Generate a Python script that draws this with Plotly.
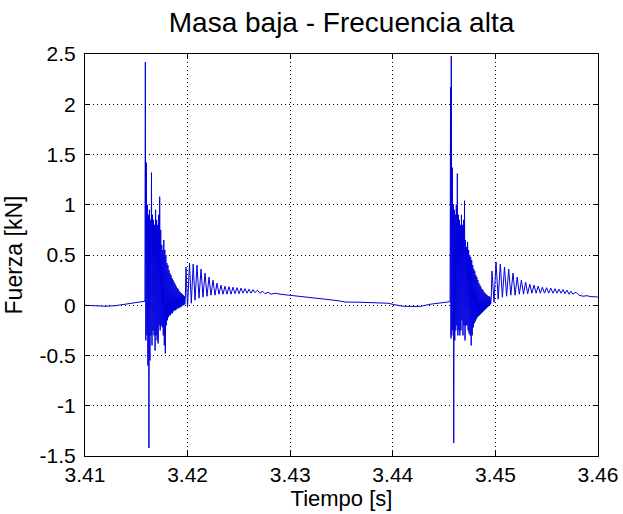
import plotly.graph_objects as go

# Force signal (kN) vs time (s), stitched from consecutive segments

# quiet baseline before the first impact
t_pre = [3.41000, 3.41097, 3.41195, 3.41292, 3.41390, 3.41487, 3.41575, 3.41584]
f_pre = [0.00, -0.005, -0.01, -0.005, 0.01, 0.025, 0.035, 0.04]

# first impact: main spike and dense high-frequency burst
t_hit1 = [3.41588, 3.41593, 3.41598, 3.41603, 3.41608, 3.41613, 3.41618, 3.41623,
          3.41628, 3.41633, 3.41638, 3.41643, 3.41648, 3.41653, 3.41658, 3.41663,
          3.41668, 3.41673, 3.41678, 3.41683, 3.41688, 3.41693, 3.41698, 3.41703,
          3.41708, 3.41713, 3.41718, 3.41723, 3.41728, 3.41733, 3.41738, 3.41743,
          3.41748, 3.41753, 3.41758, 3.41763, 3.41768, 3.41773, 3.41778, 3.41783,
          3.41788, 3.41793, 3.41798, 3.41803, 3.41808, 3.41813, 3.41818, 3.41823,
          3.41828, 3.41833, 3.41838, 3.41843, 3.41848, 3.41853, 3.41858, 3.41863,
          3.41868, 3.41873, 3.41878, 3.41883, 3.41888, 3.41893, 3.41898, 3.41903,
          3.41908, 3.41913, 3.41918, 3.41923, 3.41928, 3.41933, 3.41938, 3.41943,
          3.41948, 3.41953, 3.41958, 3.41963, 3.41968, 3.41973, 3.41978]
f_hit1 = [2.42, -0.35, 1.42, -0.30, 1.00, -0.60, 0.90, -1.42,
          0.95, -0.55, 0.85, -0.30, 1.32, -0.40, 0.90, -0.25,
          0.85, -0.30, 0.80, -0.45, 0.95, -0.30, 0.85, -0.35,
          0.80, -0.38, 0.90, -0.20, 1.08, -0.25, 0.75, -0.20,
          0.60, -0.22, 0.55, -0.30, 0.65, -0.40, 0.55, -0.48,
          0.50, -0.20, 0.42, -0.15, 0.40, -0.12, 0.35, -0.10,
          0.32, -0.10, 0.30, -0.08, 0.27, -0.08, 0.25, -0.06,
          0.23, -0.05, 0.21, -0.05, 0.19, -0.04, 0.17, -0.03,
          0.16, -0.03, 0.14, -0.02, 0.13, -0.02, 0.12, -0.01,
          0.11, 0.00, 0.10, 0.00, 0.09, 0.01, 0.08]

# first impact: lower-frequency ringing
t_ring1 = [3.419845, 3.419991, 3.420186, 3.420361, 3.420546, 3.420722, 3.420917,
           3.421111, 3.421306, 3.421501, 3.421696, 3.421891, 3.422086, 3.422281,
           3.422476, 3.422671, 3.422865, 3.423060, 3.423255, 3.423450, 3.423645,
           3.423840, 3.424035, 3.424230, 3.424425, 3.424620, 3.424815, 3.425010,
           3.425205, 3.425400, 3.425595, 3.425789, 3.425984, 3.426179, 3.426374,
           3.426569, 3.426813, 3.427057, 3.427300, 3.427544, 3.427836, 3.428129,
           3.428519, 3.429006]
f_ring1 = [0.38, -0.02, 0.42, 0.02, 0.41, 0.05, 0.40,
           0.07, 0.36, 0.08, 0.32, 0.09, 0.28, 0.10,
           0.25, 0.10, 0.22, 0.11, 0.20, 0.11, 0.19,
           0.11, 0.185, 0.11, 0.18, 0.115, 0.175, 0.115,
           0.17, 0.12, 0.165, 0.12, 0.16, 0.12, 0.155,
           0.125, 0.15, 0.12, 0.14, 0.115, 0.13, 0.11,
           0.12, 0.11]

# slow decay between impacts
t_mid = [3.42998, 3.43096, 3.43193, 3.43291, 3.43388, 3.43485, 3.43534, 3.43680,
         3.43827, 3.43953, 3.44021, 3.44099, 3.44216, 3.44275, 3.44363, 3.44460,
         3.44538, 3.44558]
f_mid = [0.10, 0.085, 0.075, 0.065, 0.055, 0.042, 0.032, 0.03,
         0.028, 0.02, 0.005, -0.01, -0.012, -0.01, 0.01, 0.025,
         0.035, 0.035]

# second impact: main spike and dense burst
t_hit2 = [3.44563, 3.44567, 3.44570, 3.44575, 3.44580, 3.44585, 3.44590, 3.44594,
          3.44599, 3.44604, 3.44609, 3.44614, 3.44619, 3.44624, 3.44629, 3.44634,
          3.44639, 3.44644, 3.44649, 3.44654, 3.44659, 3.44664, 3.44669, 3.44674,
          3.44679, 3.44684, 3.44689, 3.44694, 3.44699, 3.44704, 3.44709, 3.44714,
          3.44719, 3.44724, 3.44729, 3.44734, 3.44739, 3.44744, 3.44749, 3.44754,
          3.44759, 3.44764, 3.44769, 3.44774, 3.44779, 3.44784, 3.44789, 3.44794,
          3.44799, 3.44804, 3.44809, 3.44814, 3.44819, 3.44824, 3.44829, 3.44834,
          3.44839, 3.44844, 3.44849, 3.44854, 3.44859, 3.44864, 3.44869, 3.44874,
          3.44879, 3.44884, 3.44889, 3.44894, 3.44899, 3.44904, 3.44909, 3.44914,
          3.44919, 3.44924, 3.44929, 3.44934, 3.44939, 3.44944, 3.44949, 3.44954,
          3.44959]
f_hit2 = [2.17, -0.33, 2.48, -0.30, 1.37, -0.25, 1.00, -1.37,
          0.95, -0.35, 0.90, -0.25, 1.00, -0.20, 1.31, -0.30,
          0.90, -0.25, 0.85, -0.30, 0.80, -0.25, 0.90, -0.15,
          0.80, -0.30, 0.85, -0.20, 1.04, -0.35, 0.65, -0.20,
          0.58, -0.20, 0.63, -0.25, 0.55, -0.28, 0.50, -0.30,
          0.48, -0.40, 0.45, -0.30, 0.40, -0.22, 0.36, -0.18,
          0.34, -0.16, 0.30, -0.14, 0.28, -0.12, 0.25, -0.11,
          0.22, -0.10, 0.20, -0.09, 0.18, -0.08, 0.16, -0.07,
          0.15, -0.06, 0.13, -0.05, 0.12, -0.04, 0.11, -0.03,
          0.10, -0.02, 0.09, -0.01, 0.09, 0.00, 0.08, 0.01,
          0.08]

# second impact: ringing up to the end of the record
t_ring2 = [3.449669, 3.449864, 3.450059, 3.450273, 3.450478, 3.450682, 3.450887,
           3.451092, 3.451296, 3.451501, 3.451715, 3.451920, 3.452125, 3.452329,
           3.452534, 3.452739, 3.452943, 3.453148, 3.453353, 3.453558, 3.453762,
           3.453967, 3.454172, 3.454376, 3.454581, 3.454786, 3.454990, 3.455195,
           3.455400, 3.455614, 3.455809, 3.456004, 3.456199, 3.456394, 3.456589,
           3.456784, 3.456979, 3.457173, 3.457368, 3.457563, 3.457856, 3.458148,
           3.458538, 3.458928, 3.459318, 3.459708, 3.460000]
f_ring2 = [0.34, 0.03, 0.43, 0.06, 0.41, 0.08, 0.38,
           0.09, 0.36, 0.10, 0.32, 0.10, 0.28, 0.11,
           0.25, 0.11, 0.23, 0.115, 0.21, 0.12, 0.20,
           0.12, 0.19, 0.12, 0.18, 0.12, 0.175, 0.12,
           0.17, 0.12, 0.165, 0.12, 0.16, 0.12, 0.155,
           0.115, 0.15, 0.11, 0.14, 0.11, 0.13, 0.10,
           0.09, 0.095, 0.085, 0.085, 0.08]

x_ticks = [3.41, 3.42, 3.43, 3.44, 3.45, 3.46]
x_labels = ["3.41", "3.42", "3.43", "3.44", "3.45", "3.46"]
y_ticks = [-1.5, -1, -0.5, 0, 0.5, 1, 1.5, 2, 2.5]
y_labels = ["-1.5", "-1", "-0.5", "0", "0.5", "1", "1.5", "2", "2.5"]

t = t_pre + t_hit1 + t_ring1 + t_mid + t_hit2 + t_ring2
f = f_pre + f_hit1 + f_ring1 + f_mid + f_hit2 + f_ring2

FONT = "Liberation Sans, Arial, sans-serif"

fig = go.Figure(
    go.Scatter(x=t, y=f, mode="lines",
               line=dict(color="#0000dd", width=1), hoverinfo="skip")
)

axis_common = dict(
    showgrid=True, gridcolor="black", griddash="1px,3px", gridwidth=1,
    showline=True, linecolor="black", linewidth=1, mirror="ticks",
    ticks="inside", ticklen=5, tickcolor="black", zeroline=False,
    automargin=False,
    tickfont=dict(family=FONT, size=21, color="black"),
)

fig.update_xaxes(range=[3.41, 3.46], tickvals=x_ticks, ticktext=x_labels,
                 title=dict(text="Tiempo [s]", font=dict(family=FONT, size=22, color="black"),
                            standoff=0),
                 **axis_common)
fig.update_yaxes(range=[-1.5, 2.5], tickvals=y_ticks, ticktext=y_labels,
                 ticklabelstandoff=4,
                 title=dict(text="Fuerza [kN]", font=dict(family=FONT, size=23, color="black"),
                            standoff=10),
                 **axis_common)

fig.update_layout(
    width=623, height=514,
    margin=dict(l=85, r=25, t=54, b=58, pad=0),
    paper_bgcolor="white", plot_bgcolor="white",
    showlegend=False,
    title=dict(text="Masa baja - Frecuencia alta",
               font=dict(family=FONT, size=28, color="black"),
               x=0.5, xref="paper", xanchor="center",
               y=1 - 22 / 514, yref="container", yanchor="middle"),
)

fig.write_html("out.html")
